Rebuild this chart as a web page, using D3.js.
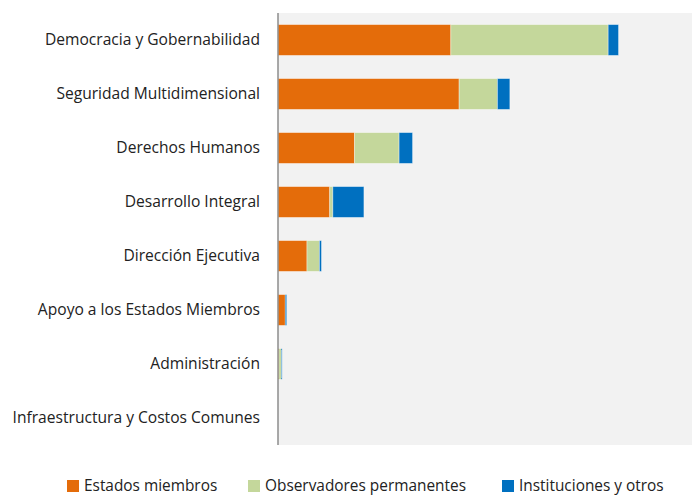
<!DOCTYPE html>
<html>
<head>
<meta charset="utf-8">
<script src="https://cdn.jsdelivr.net/npm/d3@7"></script>
<style>
  body { margin: 0; background: #fff; }
  text { font-family: "Open Sans", sans-serif; fill: #222; }
</style>
</head>
<body>
<svg class="chart"></svg>
<script>
var categories = [
  "Democracia y Gobernabilidad",
  "Seguridad Multidimensional",
  "Derechos Humanos",
  "Desarrollo Integral",
  "Dirección Ejecutiva",
  "Apoyo a los Estados Miembros",
  "Administración",
  "Infraestructura y Costos Comunes"
];
var seriesNames = ["Estados miembros", "Observadores permanentes", "Instituciones y otros"];
var estadosMiembros = [16.7, 17.5, 7.4, 5.0, 2.8, 0.70, 0.08, 0];
var observadores    = [15.2, 3.7, 4.3, 0.3, 1.2, 0.0, 0.24, 0];
var instituciones   = [1.0, 1.2, 1.3, 3.0, 0.2, 0.14, 0.08, 0];
var colors = ["#E46C0A", "#C4D79B", "#0070C0"];

var margin = { top: 13, right: 0, bottom: 51, left: 278 },
    width = 692 - margin.left - margin.right,
    height = 496 - margin.top - margin.bottom;

var rows = categories.map(function (c, i) {
  return { name: c, s0: estadosMiembros[i], s1: observadores[i], s2: instituciones[i] };
});
var stack = d3.stack().keys(["s0", "s1", "s2"])(rows);

var x = d3.scaleLinear().domain([0, 40]).range([0, width]);
var y = d3.scaleBand().domain(categories).range([0, height]).paddingInner(0.43).paddingOuter(0.215);

var svg = d3.select(".chart")
    .attr("width", 692)
    .attr("height", 496);

var chart = svg.append("g")
    .attr("transform", "translate(" + margin.left + "," + margin.top + ")");

chart.append("rect")
    .attr("width", width)
    .attr("height", height)
    .attr("fill", "#F2F2F2");

chart.selectAll(".layer")
    .data(stack)
    .enter().append("g")
    .attr("class", "layer")
    .attr("fill", function (d, i) { return colors[i]; })
  .selectAll("rect")
    .data(function (d) { return d; })
    .enter().append("rect")
    .attr("x", function (d) { return x(d[0]); })
    .attr("y", function (d) { return y(d.data.name); })
    .attr("width", function (d) { return x(d[1]) - x(d[0]); })
    .attr("height", y.bandwidth())
    .attr("stroke", "rgba(255,255,255,0.45)")
    .attr("stroke-width", 0.8);

chart.append("g")
    .attr("class", "y axis")
    .call(d3.axisLeft(y).tickSize(0).tickPadding(18))
    .call(function (g) {
      g.select(".domain").attr("stroke", "#8c8c8c").attr("stroke-width", 1.5)
        .attr("d", "M0,0V" + height);
      g.selectAll("text").attr("font-size", 15.6).attr("font-family", "Open Sans, sans-serif")
        .attr("fill", "#222");
    });

// legend
var legendX = [67, 248, 502];
var legend = svg.append("g").attr("transform", "translate(0,486)");
var item = legend.selectAll("g")
    .data(seriesNames)
    .enter().append("g")
    .attr("transform", function (d, i) { return "translate(" + legendX[i] + ",0)"; });
item.append("rect")
    .attr("x", 0).attr("y", -6)
    .attr("width", 12).attr("height", 12)
    .attr("fill", function (d, i) { return colors[i]; });
item.append("text")
    .attr("x", 17)
    .attr("dy", "0.35em")
    .attr("font-size", 15.4)
    .text(function (d) { return d; });
</script>
</body>
</html>
